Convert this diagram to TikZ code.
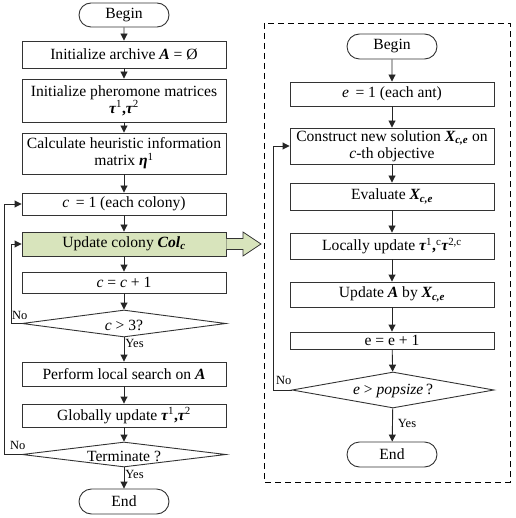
\documentclass[tikz,border=0pt]{standalone}
\usepackage{fontspec}
\setmainfont{Liberation Serif}
\usetikzlibrary{shapes.geometric,shapes.misc,arrows.meta}
\definecolor{boxgreen}{RGB}{216,228,188}
\newcommand{\bi}[1]{{\bfseries\itshape #1}}
\begin{document}
\begin{tikzpicture}[x=1pt,y=-1pt,
  every node/.style={font=\fontsize{15.6}{17}\selectfont, inner sep=0pt, align=center},
  pbox/.style={draw=black!80, line width=0.9pt, rectangle, minimum width=#1},
  pbox/.default=204,
  term/.style={draw=black!80, line width=0.9pt, rounded rectangle, minimum width=90, minimum height=24},
  dec/.style={draw=black!80, line width=0.9pt, diamond, aspect=7.5},
  arr/.style={draw=black!85, line width=0.9pt, -{Triangle[length=7pt,width=7pt]}},
  lab/.style={font=\fontsize{12.5}{14}\selectfont}
]
\useasboundingbox (0,0) rectangle (515,518);
% ---------- left column ----------
\node[term] (b) at (124,15) {Begin};
\node[pbox, minimum height=27] (a1) at (124,54.5) {Initialize archive \bi{A} = Ø};
\node[pbox, minimum height=43] (a2) at (124,100.5) {Initialize pheromone matrices\\ \bi{τ}\textsuperscript{1}\textbf{,}\bi{τ}\textsuperscript{2}};
\node[pbox, minimum height=41] (a3) at (124,153.5) {Calculate heuristic information\\ matrix \bi{η}\textsuperscript{1}};
\node[pbox, minimum height=22] (a4) at (124,204) {\textit{c}\, = 1 (each colony)};
\node[pbox, minimum height=24, fill=boxgreen] (a5) at (124,244) {Update colony \bi{Col}\textsubscript{\bi{c}}};
\node[pbox, minimum height=21] (a6) at (124,282.5) {\textit{c} = \textit{c} + 1};
\node[dec, minimum width=204, minimum height=27] (d1) at (124,323.5) {};
\node at (124,325) {\textit{c} > 3?};
\node[pbox, minimum height=24] (a7) at (124,374) {Perform local search on \bi{A}};
\node[pbox, minimum height=23] (a8) at (124,415.5) {Globally update \bi{τ}\textsuperscript{1}\textbf{,}\bi{τ}\textsuperscript{2}};
\node[dec, minimum width=204, minimum height=25] (d2) at (124,454.5) {};
\node at (124,456) {Terminate ?};
\node[term, minimum height=25] (e) at (124,501.5) {End};

\draw[arr] (b) -- (a1);
\draw[arr] (a1) -- (a2);
\draw[arr] (a2) -- (a3);
\draw[arr] (a3) -- (a4);
\draw[arr] (a4) -- (a5);
\draw[arr] (a5) -- (a6);
\draw[arr] (a6) -- (d1);
\draw[arr] (d1) -- node[lab, right=1pt, pos=0.25] {Yes} (a7);
\draw[arr] (a7) -- (a8);
\draw[arr] (a8) -- (d2);
\draw[arr] (d2) -- node[lab, right=1pt, pos=0.35] {Yes} (e);
\coordinate (n1) at (11,323.5);
\draw[arr] (d1.west) -- (n1) |- (a5.west);
\node[lab, anchor=south west] at (12,320) {No};
\coordinate (n2) at (4.5,454.5);
\draw[arr] (d2.west) -- (n2) |- (a4.west);
\node[lab, anchor=south west] at (10,450) {No};

% block arrow
\draw[draw=black!80, line width=0.8pt, fill=boxgreen]
  (a5.east |- 0,238.5) -- (243,238.5) -- (243,232) -- (261,244) -- (243,256) -- (243,249.5) -- (a5.east |- 0,249.5);

% ---------- right frame ----------
\draw[line width=0.9pt, dash pattern=on 6pt off 4pt] (264,23) rectangle (510,482);
\node[term, minimum height=25] (rb) at (392,46.5) {Begin};
\node[pbox, minimum height=24] (r1) at (392,94) {\textit{e}\, = 1 (each ant)};
\node[pbox, minimum height=36] (r2) at (392,146) {Construct new solution \bi{X}\textsubscript{\bi{c,e}} on\\ \textit{c}-th objective};
\node[pbox, minimum height=27] (r3) at (392,196.5) {Evaluate \bi{X}\textsubscript{\bi{c,e}}};
\node[pbox, minimum height=26] (r4) at (392,246) {Locally update \bi{τ}\textsuperscript{1}\textbf{,}\textsuperscript{c}\bi{τ}\textsuperscript{2,c}};
\node[pbox, minimum height=25] (r5) at (392,294.5) {Update \bi{A} by \bi{X}\textsubscript{\bi{c,e}}};
\node[pbox, minimum height=17] (r6) at (392,340.5) {e = e + 1};
\node[dec, minimum width=202, minimum height=36] (rd) at (393,390) {};
\node at (393,391) {\textit{e} > \textit{popsize}\,?};
\node[term, minimum height=25] (re) at (392,454.5) {End};

\draw[arr] (rb) -- (r1);
\draw[arr] (r1) -- (r2);
\draw[arr] (r2) -- (r3);
\draw[arr] (r3) -- (r4);
\draw[arr] (r4) -- (r5);
\draw[arr] (r5) -- (r6);
\draw[arr] (r6) -- (rd);
\draw[arr] (rd) -- node[lab, right=5pt, pos=0.45] {Yes} (re);
\coordinate (n3) at (273,390);
\draw[arr] (rd.west) -- (n3) |- (r2.west);
\node[lab, anchor=south west] at (276,385) {No};
\end{tikzpicture}
\end{document}
